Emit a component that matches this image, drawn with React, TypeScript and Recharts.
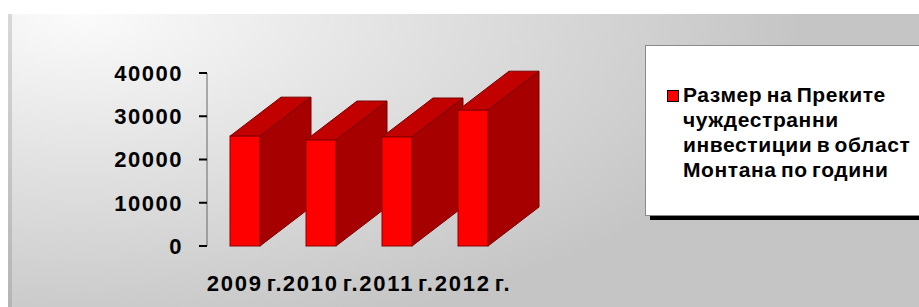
import React from 'react';
import { BarChart, Bar, XAxis, YAxis, Legend } from 'recharts';

const years = ['2009 г.', '2010 г.', '2011 г.', '2012 г.'];
const investments = [25400, 24500, 25200, 31400];
const yTicks = [0, 10000, 20000, 30000, 40000];
const seriesName = 'Размер на Преките чуждестранни инвестиции в област Монтана по години';
const legendLines = ['Размер на Преките', 'чуждестранни', 'инвестиции в област', 'Монтана по години'];

const data = years.map((year, i) => ({ year, value: investments[i] }));

const FONT = '"Liberation Sans", Arial, sans-serif';
const DEPTH_X = 51;
const DEPTH_Y = 39;

const Bar3D = (props: any) => {
    const { x, y, width, height } = props;
    if (height == null || height <= 0) return null;
    const top = `${x},${y} ${x + DEPTH_X},${y - DEPTH_Y} ${x + width + DEPTH_X},${y - DEPTH_Y} ${x + width},${y}`;
    const side = `${x + width},${y} ${x + width + DEPTH_X},${y - DEPTH_Y} ${x + width + DEPTH_X},${y + height - DEPTH_Y} ${x + width},${y + height}`;
    return (
        <g>
            <polygon points={top} fill="#c20000" stroke="#7a0000" strokeWidth={1} />
            <polygon points={side} fill="#a60000" stroke="#7a0000" strokeWidth={1} />
            <rect x={x} y={y} width={width} height={height} fill="#ff0000" stroke="#8a0000" strokeWidth={1} />
        </g>
    );
};

const renderLegend = () => (
    <div
        style={{
            width: 290,
            height: 171,
            boxSizing: 'border-box',
            background: '#fff',
            border: '1px solid #8a8a8a',
            boxShadow: '5px 4px 0 #000',
            position: 'relative',
            fontFamily: FONT,
            fontWeight: 'bold',
            fontSize: 21,
            lineHeight: '25px',
            letterSpacing: 0.6,
            wordSpacing: -2,
            color: '#000',
        }}
    >
        <span
            style={{
                position: 'absolute',
                left: 21,
                top: 44,
                width: 10,
                height: 10,
                background: '#ff0000',
                border: '1px solid #000',
            }}
        />
        <div style={{ position: 'absolute', left: 37, top: 36, whiteSpace: 'nowrap' }}>
            {legendLines.map((line) => (
                <div key={line}>{line}</div>
            ))}
        </div>
    </div>
);

const App: React.FC = () => {
    return (
        <div style={{ position: 'absolute', left: 0, top: 0, width: 919, height: 307, background: '#fff', overflow: 'hidden' }}>
            <div
                style={{
                    position: 'absolute',
                    left: 8,
                    top: 14,
                    width: 911,
                    height: 293,
                    background: 'radial-gradient(ellipse 720px 330px at 8% 0%, #fbfbfb 0%, #e2e2e2 45%, #c5c5c5 100%)',
                }}
            />
            <div
                style={{
                    position: 'absolute',
                    left: 8,
                    top: 14,
                    width: 4,
                    height: 293,
                    background: 'linear-gradient(to bottom, #d8d8d8, #b4b4b4)',
                }}
            />
            <div style={{ position: 'absolute', left: 0, top: 0 }}>
                <BarChart width={919} height={307} data={data} margin={{ top: 73, right: 408, bottom: 0, left: 0 }}>
                    <XAxis
                        dataKey="year"
                        axisLine={false}
                        tickLine={false}
                        tickSize={0}
                        tickMargin={29}
                        height={61}
                        interval={0}
                        tick={{ fill: '#000', fontSize: 22, fontWeight: 'bold', fontFamily: FONT, letterSpacing: 1.8, wordSpacing: -4 }}
                    />
                    <YAxis
                        domain={[0, 40000]}
                        ticks={yTicks}
                        width={207}
                        axisLine={{ stroke: '#666', strokeWidth: 1 }}
                        tickLine={{ stroke: '#000', strokeWidth: 2 }}
                        tickSize={8}
                        tickMargin={16}
                        tick={{ fill: '#000', fontSize: 22, fontWeight: 'bold', fontFamily: FONT, letterSpacing: 1.5 }}
                    />
                    <Legend
                        layout="vertical"
                        align="center"
                        verticalAlign="middle"
                        content={renderLegend}
                        wrapperStyle={{ left: 645, top: 45, width: 290 }}
                    />
                    <Bar dataKey="value" name={seriesName} barSize={30} shape={Bar3D} isAnimationActive={false} />
                </BarChart>
            </div>
        </div>
    );
};

export default App;
